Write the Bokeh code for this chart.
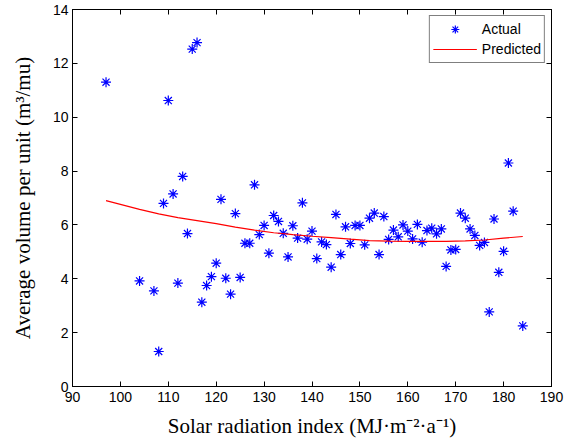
from bokeh.plotting import figure
from bokeh.models import (ColumnDataSource, LinearAxis, FixedTicker, Range1d,
                          Legend, LegendItem, CustomJSTickFormatter)
from bokeh.embed import file_html
from bokeh.resources import INLINE

# Observed average volume per unit against solar radiation index
radiation = [97, 104, 107, 108, 109, 110, 111, 112, 113, 114, 115, 116, 117, 118,
             119, 120, 121, 122, 123, 124, 125, 126, 127, 128, 129, 130, 131, 132,
             133, 134, 135, 136, 137, 138, 139, 140, 141, 142, 143, 144, 145, 146,
             147, 148, 149, 150, 151, 152, 153, 154, 155, 156, 157, 158, 159, 160,
             161, 162, 163, 164, 165, 166, 167, 168, 169, 170, 171, 172, 173, 174,
             175, 176, 177, 178, 179, 180, 181, 182, 184]
actual = [11.3, 3.92, 3.55, 1.3, 6.8, 10.62, 7.15, 3.84, 7.8, 5.68, 12.53, 12.77, 3.13, 3.75,
          4.08, 4.58, 6.95, 4.02, 3.43, 6.42, 4.05, 5.32, 5.32, 7.49, 5.64, 5.98, 4.95, 6.35,
          6.13, 5.69, 4.81, 5.97, 5.51, 6.82, 5.47, 5.77, 4.75, 5.37, 5.27, 4.43, 6.39, 4.9,
          5.93, 5.31, 5.98, 5.98, 5.26, 6.25, 6.44, 4.9, 6.31, 5.46, 5.81, 5.56, 6.0, 5.77,
          5.48, 6.02, 5.36, 5.79, 5.88, 5.67, 5.85, 4.46, 5.07, 5.09, 6.44, 6.25, 5.85, 5.61,
          5.24, 5.35, 2.77, 6.22, 4.24, 5.02, 8.3, 6.51, 2.25]

# Model prediction curve
pred_x = [97, 104, 108, 112, 116, 120, 124, 128, 132, 136, 140, 144, 148, 152,
          156, 160, 164, 168, 172, 176, 180, 184]
predicted = [6.90, 6.58, 6.41, 6.27, 6.16, 6.05, 5.92, 5.81, 5.71, 5.64, 5.58, 5.53,
             5.47, 5.42, 5.40, 5.39, 5.39, 5.39, 5.41, 5.44, 5.51, 5.57]

x_ticks = [90, 100, 110, 120, 130, 140, 150, 160, 170, 180, 190]
y_ticks = [0, 2, 4, 6, 8, 10, 12, 14]

TICK_FONT = "Liberation Sans"
LABEL_FONT = "Liberation Serif"

p = figure(width=569, height=445, output_backend="svg", toolbar_location=None,
           x_range=Range1d(90, 190), y_range=Range1d(0, 14),
           min_border_left=72, min_border_right=18, min_border_top=9,
           min_border_bottom=59, x_axis_type=None, y_axis_type=None)
p.grid.visible = False
p.outline_line_color = "black"
p.outline_line_width = 1
p.background_fill_color = "white"
p.border_fill_color = "white"

blank = CustomJSTickFormatter(code="return ''")


def style_axis(ax, labeled):
    ax.axis_line_color = "black"
    ax.major_tick_line_color = "black"
    ax.major_tick_in = 5
    ax.major_tick_out = 0
    ax.minor_tick_line_color = None
    if labeled:
        ax.major_label_text_font = TICK_FONT
        ax.major_label_text_font_size = "14px"
        ax.major_label_text_color = "black"
        ax.axis_label_text_font = LABEL_FONT
        ax.axis_label_text_font_size = "21px"
        ax.axis_label_text_font_style = "normal"
        ax.axis_label_text_color = "black"
    else:
        ax.formatter = blank
        ax.major_label_text_font_size = "0px"
        ax.major_label_standoff = 0


xb = LinearAxis(ticker=FixedTicker(ticks=x_ticks),
                axis_label="Solar radiation index (MJ\u00b7m\u207b\u00b2\u00b7a\u207b\u00b9)")
style_axis(xb, True)
xb.major_label_standoff = 5
xb.axis_label_standoff = 9
p.add_layout(xb, "below")

yl = LinearAxis(ticker=FixedTicker(ticks=y_ticks),
                axis_label="Average volume per unit (m\u00b3/mu)")
style_axis(yl, True)
yl.major_label_standoff = 4
yl.axis_label_standoff = 15
p.add_layout(yl, "left")

xt = LinearAxis(ticker=FixedTicker(ticks=x_ticks))
style_axis(xt, False)
p.add_layout(xt, "above")

yr = LinearAxis(ticker=FixedTicker(ticks=y_ticks))
style_axis(yr, False)
p.add_layout(yr, "right")

src_actual = ColumnDataSource(dict(x=radiation, y=actual))
src_pred = ColumnDataSource(dict(x=pred_x, y=predicted))

pts = p.scatter("x", "y", source=src_actual, marker="asterisk", size=10,
                line_color="#0000ff", line_width=1.2)
ln = p.line("x", "y", source=src_pred, line_color="#ff0000", line_width=1.2)

legend = Legend(items=[LegendItem(label="Actual", renderers=[pts]),
                       LegendItem(label="Predicted", renderers=[ln])],
                location="top_right")
legend.margin = 6
legend.padding = 3
legend.spacing = 0
legend.glyph_width = 44
legend.glyph_height = 20
legend.label_height = 20
legend.label_standoff = 5
legend.label_text_font = TICK_FONT
legend.label_text_font_size = "14px"
legend.label_text_color = "black"
legend.border_line_color = "black"
legend.border_line_width = 1
legend.background_fill_color = "white"
legend.background_fill_alpha = 1.0
p.add_layout(legend, "center")

open("out.html", "w").write(file_html(p, INLINE))
